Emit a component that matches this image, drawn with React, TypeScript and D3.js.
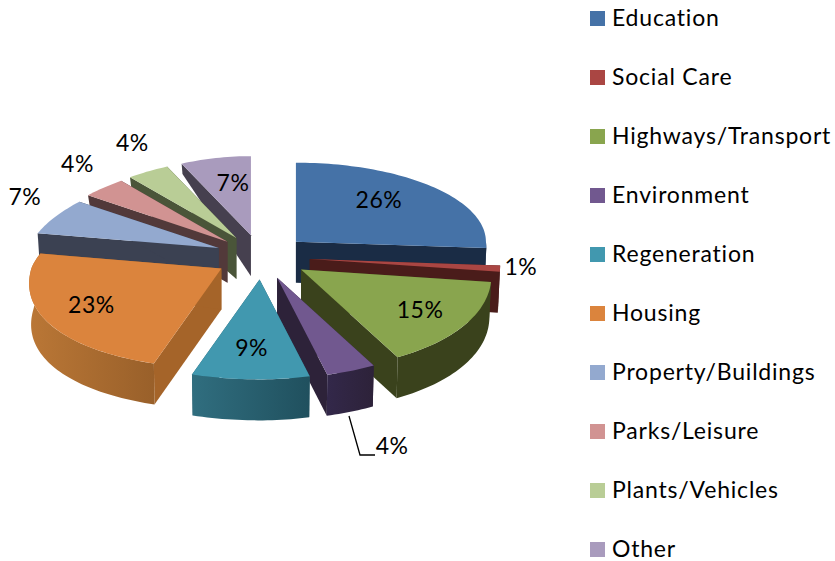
import React from "react";
import * as d3 from "d3";

// values
const categories = ["Education", "Social Care", "Highways/Transport", "Environment", "Regeneration", "Housing", "Property/Buildings", "Parks/Leisure", "Plants/Vehicles", "Other"];
const shares = [26, 1, 15, 4, 9, 23, 7, 4, 4, 7];

const topColors = ["#4572a7", "#aa4643", "#89a54e", "#71588f", "#4198af", "#db843d", "#93a9cf", "#d19392", "#b9cd96", "#a99bbd"];
const wallColors = ["#1a2c45", "#4a1c1a", "#3a421c", "#2d2239", "#265a69", "#a56429", "#3b4152", "#52393a", "#4a5539", "#46404f"];
const rimLeft = ["#1a2c45", "#4a1c1a", "#3a421c", "#33284a", "#306e7f", "#ba7736", "#3b4152", "#52393a", "#4a5539", "#46404f"];
const rimRight = ["#1a2c45", "#4a1c1a", "#3a421c", "#2d2239", "#20505e", "#99602a", "#3b4152", "#52393a", "#4a5539", "#46404f"];

// painter's order, back to front
const drawOrder = [9, 8, 7, 6, 5, 0, 1, 2, 3, 4];
// label offset from each slice's apex
const labelOffsets = [[83, -43], [211, 7], [119, 39], [115, 167], [-8, 68], [-130, 36], [-194, -52], [-150, -79], [-104, -96], [-18, -53]];

const cx = 258;
const cy = 257;
const depth = 41;

const rim = (a: number) => {
  const s = Math.sin(a);
  const c = Math.cos(a);
  const rx = s >= 0 ? 190 - 12 * Math.min(c, 0) : 190 - 30 * c;
  const ry = c >= 0 ? 79 : 100;
  return [s * rx, -c * ry];
};

// the back of the pie is foreshortened, so its edges look thinner
const rimDepth = (a: number) => depth * Math.max(0.25, Math.min(1, 1 - Math.cos(a) * 1.3));

const line = d3.line();
const legendY = d3.scaleLinear().domain([0, 9]).range([18, 549]);

export default function App() {
  const slices = d3.pie<number>().sort(null)(shares);

  const parts = slices.map((d) => {
    const mid = (d.startAngle + d.endAngle) / 2;
    const sm = Math.sin(mid);
    const ax = sm < 0 ? cx + 3 + sm * 46 : cx + sm * 52;
    const ay = cy - Math.cos(mid) * 22.4;
    const at = (a: number): [number, number] => {
      const [x, y] = rim(a);
      return [ax + x, ay + y];
    };
    const n = Math.max(2, Math.ceil((d.endAngle - d.startAngle) * 40));
    const angles = d3.range(n + 1).map((i) => d.startAngle + ((d.endAngle - d.startAngle) * i) / n);
    const arc = angles.map(at);
    const top = line([[ax, ay], ...arc]) + "Z";

    const wall = (a: number) => {
      const [x, y] = at(a);
      return line([[ax, ay], [x, y], [x - Math.sin(a) * 2, y + rimDepth(a)], [ax, ay + depth]]) + "Z";
    };

    // outer band only where it faces the viewer
    const lo = Math.max(d.startAngle, Math.PI / 2);
    const hi = Math.min(d.endAngle, (Math.PI * 280) / 180);
    let band = null as string | null;
    if (hi > lo) {
      const m = Math.ceil((hi - lo) * 40) + 1;
      const as = d3.range(m + 1).map((i) => lo + ((hi - lo) * i) / m);
      const upper = as.map(at);
      const lower = as
        .map((a): [number, number] => {
          const [x, y] = at(a);
          return [x - Math.sin(a) * 2, y + rimDepth(a)];
        })
        .reverse();
      band = line([...upper, ...lower]) + "Z";
    }
    return { i: d.index, ax, ay, top, band, walls: [wall(d.startAngle), wall(d.endAngle)] };
  });

  const font = { fontFamily: "Lato, 'Open Sans', sans-serif", fill: "#000" };

  return (
    <svg width={835} height={561} style={{ position: "absolute", left: 0, top: 0, background: "#fff" }}>
      <defs>
        {categories.map((c, i) => (
          <linearGradient key={c} id={`rim${i}`} x1="0" x2="1" y1="0" y2="0">
            <stop offset="0" stopColor={rimLeft[i]} />
            <stop offset="1" stopColor={rimRight[i]} />
          </linearGradient>
        ))}
      </defs>

      {drawOrder.map((i) => {
        const p = parts[i];
        return (
          <g key={i}>
            {p.walls.map((w, k) => (
              <path key={k} d={w} fill={wallColors[i]} />
            ))}
            {p.band && <path d={p.band} fill={`url(#rim${i})`} />}
            <path d={p.top} fill={topColors[i]} />
          </g>
        );
      })}

      <path d={line([[349, 416], [360, 455], [375, 455]]) || ""} fill="none" stroke="#000" strokeWidth={1.3} />

      {parts.map((p) => (
        <text
          key={p.i}
          x={p.ax + labelOffsets[p.i][0]}
          y={p.ay + labelOffsets[p.i][1]}
          textAnchor="middle"
          dominantBaseline="central"
          fontSize={23}
          letterSpacing={0.5}
          style={font}
        >
          {shares[p.i]}%
        </text>
      ))}

      {categories.map((c, i) => (
        <g key={c}>
          <rect x={590} y={legendY(i) - 7} width={15} height={15} fill={topColors[i]} />
          <text x={612} y={legendY(i) - 1} dominantBaseline="central" fontSize={23} letterSpacing={0.8} style={font}>
            {c}
          </text>
        </g>
      ))}
    </svg>
  );
}
